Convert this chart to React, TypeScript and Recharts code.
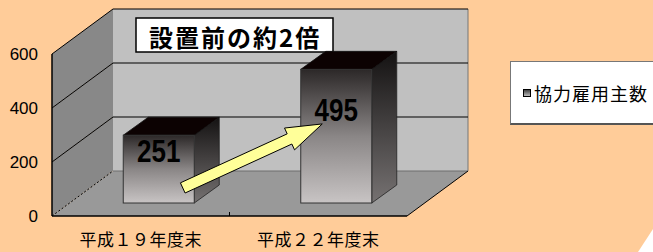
import { BarChart, Bar, XAxis, YAxis, ReferenceArea, ReferenceLine, Legend } from "recharts";

const categories = ["平成１９年度末", "平成２２年度末"];
const employerCounts = [251, 495];
const yTicks = [0, 200, 400, 600];
const seriesName = "協力雇用主数";
const calloutText = "設置前の約2倍";
// arrow annotation: tail / tip levels in axis units
const arrowLevels = [104, 341];

const data = categories.map((name, i) => ({ name, value: employerCounts[i] }));
const bands = yTicks.slice(1).map((hi, i) => [yTicks[i], hi]).reverse();

const JP = "'Noto Sans CJK JP', sans-serif";
const WALL_DX = 61;
const WALL_DY = -45;
const BAR_OX = 18;
const BAR_OY = -13;
const BAR_DX = 25;
const BAR_DY = -18;
const LABEL_DY = [16, 41];

const BACK_WALL = "#c0c0c0";
const SIDE_WALL = "#888888";
const FLOOR = "#999999";

function WallBand(props: any) {
  const { x, y, width: w, height: h, isBottom, isTop } = props;
  const bx = x + WALL_DX;
  const by = y + WALL_DY;
  return (
    <g>
      <rect x={bx} y={by} width={w} height={h} fill={BACK_WALL} />
      <polygon points={`${x},${y} ${bx},${by} ${bx},${by + h} ${x},${y + h}`} fill={SIDE_WALL} />
      {isBottom && (
        <g>
          <polygon
            points={`${x},${y + h} ${bx},${by + h} ${bx + w},${by + h} ${x + w},${y + h}`}
            fill={FLOOR}
          />
          <line x1={bx} y1={by + h} x2={bx + w} y2={by + h} stroke="#6e6e6e" />
          <line x1={x + w} y1={y + h} x2={bx + w} y2={by + h} stroke="#000" />
          <line x1={x} y1={y + h} x2={bx} y2={by + h} stroke="#000" strokeDasharray="2 2" />
          <line x1={x + w / 2} y1={y + h} x2={x + w / 2} y2={y + h - 4} stroke="#000" />
        </g>
      )}
      <line x1={bx + w} y1={by} x2={bx + w} y2={by + h} stroke="#777" />
      <polyline points={`${x},${y} ${bx},${by} ${bx + w},${by}`} fill="none" stroke="#000" />
      {isTop && (
        <g>
          <rect x={x + 84} y={y - 36} width={197} height={34} fill="#fff" stroke="#000" strokeWidth={1.5} />
          <text
            x={x + 97}
            y={y - 7}
            fontFamily={JP}
            fontWeight="bold"
            fontSize={24}
            letterSpacing={2}
            fill="#000"
          >
            {calloutText}
          </text>
        </g>
      )}
    </g>
  );
}

function Box3D(props: any) {
  const { x, y, width: w, height: h, index, payload } = props;
  const fx = x + BAR_OX;
  const fy = y + BAR_OY;
  const fid = `barFront${index}`;
  const sid = `barSide${index}`;
  const cx = fx + w / 2;
  return (
    <g>
      <defs>
        <linearGradient id={fid} x1="0" y1="0" x2="0" y2="1">
          <stop offset="0" stopColor="#2c2828" />
          <stop offset="0.5" stopColor="#8a8686" />
          <stop offset="1" stopColor="#c8c4c4" />
        </linearGradient>
        <linearGradient id={sid} x1="0" y1="0" x2="0" y2="1">
          <stop offset="0" stopColor="#141212" />
          <stop offset="1" stopColor="#767272" />
        </linearGradient>
      </defs>
      <polygon
        points={`${fx + w},${fy} ${fx + w + BAR_DX},${fy + BAR_DY} ${fx + w + BAR_DX},${fy + h + BAR_DY} ${fx + w},${fy + h}`}
        fill={`url(#${sid})`}
        stroke="#222"
        strokeWidth={0.8}
      />
      <polygon
        points={`${fx},${fy} ${fx + BAR_DX},${fy + BAR_DY} ${fx + w + BAR_DX},${fy + BAR_DY} ${fx + w},${fy}`}
        fill="#0c0202"
        stroke="#111"
        strokeWidth={0.8}
      />
      <rect x={fx} y={fy} width={w} height={h} fill={`url(#${fid})`} stroke="#333" strokeWidth={1} />
      <g transform={`translate(${cx},0) scale(0.84,1)`}>
        <text
          x={0}
          y={fy + LABEL_DY[index] + 11}
          textAnchor="middle"
          fontFamily="'Liberation Sans', sans-serif"
          fontWeight="bold"
          fontSize={31}
          fill="#000"
        >
          {payload?.value}
        </text>
      </g>
    </g>
  );
}

function Arrow(props: any) {
  const { x1, y1, x2, y2 } = props;
  const ax = x1 + 42;
  const ay = y1;
  const tx = x2 + 4;
  const ty = y2;
  const len = Math.hypot(tx - ax, ty - ay);
  const ux = (tx - ax) / len;
  const uy = (ty - ay) / len;
  const nx = -uy;
  const ny = ux;
  const hw = 5.6;
  const headW = 12;
  const headL = 36;
  const kx = tx - ux * headL;
  const ky = ty - uy * headL;
  const pts = [
    [ax + nx * hw, ay + ny * hw],
    [kx + nx * hw, ky + ny * hw],
    [kx + nx * headW, ky + ny * headW],
    [tx, ty],
    [kx - nx * headW, ky - ny * headW],
    [kx - nx * hw, ky - ny * hw],
    [ax - nx * hw, ay - ny * hw],
  ]
    .map((p) => p.join(","))
    .join(" ");
  return <polygon points={pts} fill="#ffff99" stroke="#000" strokeWidth={1} />;
}

function LegendBox(props: any) {
  const label = props.payload?.[0]?.value ?? seriesName;
  return (
    <div
      style={{
        width: 160,
        height: 64,
        boxSizing: "border-box",
        background: "#fff",
        border: "1px solid #777",
        borderBottom: "2px solid #555",
        display: "flex",
        alignItems: "center",
        paddingLeft: 12,
      }}
    >
      <span
        style={{
          width: 6,
          height: 6,
          border: "1.5px solid #000",
          background: "linear-gradient(#444, #bbb)",
          marginRight: 3,
          marginTop: 1,
        }}
      />
      <span style={{ fontFamily: JP, fontSize: 18, letterSpacing: 1, color: "#000" }}>{label}</span>
    </div>
  );
}

export default function App() {
  return (
    <div
      style={{
        position: "absolute",
        left: 0,
        top: 0,
        width: 653,
        height: 252,
        background: "#ffcc99",
        overflow: "hidden",
      }}
    >
      <BarChart
        width={653}
        height={252}
        data={data}
        margin={{ top: 54, right: 246, bottom: 6, left: 0 }}
        barCategoryGap="30%"
      >
        {bands.map(([lo, hi]) => (
          <ReferenceArea
            key={`band${lo}`}
            y1={lo}
            y2={hi}
            shape={(p: any) => <WallBand {...p} isBottom={lo === yTicks[0]} isTop={hi === yTicks[yTicks.length - 1]} />}
          />
        ))}
        <Bar dataKey="value" name={seriesName} fill="#808080" shape={Box3D} isAnimationActive={false} />
        <ReferenceLine
          segment={[
            { x: categories[0], y: arrowLevels[0] },
            { x: categories[1], y: arrowLevels[1] },
          ]}
          shape={Arrow}
        />
        <XAxis
          dataKey="name"
          axisLine={{ stroke: "#000", strokeWidth: 1.5 }}
          tickLine={false}
          tickSize={0}
          tickMargin={18}
          height={30}
          tick={{ fill: "#000", fontSize: 17, fontFamily: JP, letterSpacing: 0.5 }}
        />
        <YAxis
          domain={[0, 600]}
          ticks={yTicks}
          width={52}
          axisLine={{ stroke: "#000", strokeWidth: 1.5 }}
          tickLine={false}
          tickSize={0}
          tickMargin={14}
          tick={{ fill: "#000", fontSize: 17, fontFamily: "'Liberation Sans', sans-serif" }}
        />
        <Legend
          layout="horizontal"
          verticalAlign="middle"
          align="center"
          wrapperStyle={{ left: 510, top: 61, width: 160, height: 64 }}
          content={LegendBox}
        />
      </BarChart>
      <svg width={653} height={252} style={{ position: "absolute", left: 0, top: 0, pointerEvents: "none" }}>
        <polygon points="653,229 653,252 638,252" fill="#ffffff" />
      </svg>
    </div>
  );
}
